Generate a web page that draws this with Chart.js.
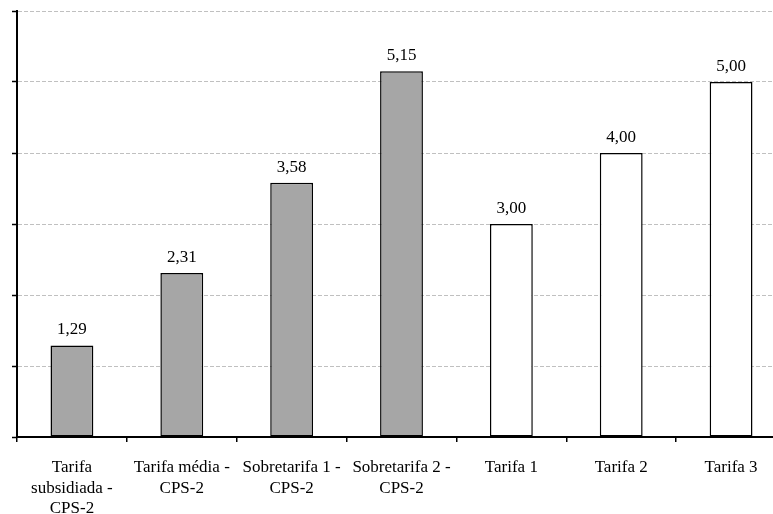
<!DOCTYPE html>
<html lang="pt">
<head>
    <meta charset="UTF-8">
    <title>Tarifas</title>
    <script src="https://cdn.jsdelivr.net/npm/chart.js"></script>
    <style>
        body {
            margin: 0;
            background-color: #ffffff;
            overflow: hidden;
        }
        canvas {
            display: block;
        }
    </style>
</head>
<body>
    <canvas id="tarifaChart" width="790" height="514"></canvas>

    <script>
        // chart data
        const categories = [
            ['Tarifa', 'subsidiada -', 'CPS-2'],
            ['Tarifa média -', 'CPS-2'],
            ['Sobretarifa 1 -', 'CPS-2'],
            ['Sobretarifa 2 -', 'CPS-2'],
            'Tarifa 1',
            'Tarifa 2',
            'Tarifa 3'
        ];
        const values = [1.29, 2.31, 3.58, 5.15, 3.00, 4.00, 5.00];
        const barColors = ['#a6a6a6', '#a6a6a6', '#a6a6a6', '#a6a6a6', '#ffffff', '#ffffff', '#ffffff'];
        const yMin = 0;
        const yMax = 6;
        const yStep = 1;

        // draws the "1,29" style labels above each bar
        const valueLabels = {
            id: 'valueLabels',
            afterDatasetsDraw(chart) {
                const ctx = chart.ctx;
                ctx.save();
                ctx.font = '17px "Liberation Serif", "Times New Roman", serif';
                ctx.fillStyle = '#000';
                ctx.textAlign = 'center';
                ctx.textBaseline = 'alphabetic';
                chart.getDatasetMeta(0).data.forEach((bar, i) => {
                    const txt = values[i].toFixed(2).replace('.', ',');
                    ctx.fillText(txt, bar.x, bar.y - 11);
                });
                ctx.restore();
            }
        };

        const ctx = document.getElementById('tarifaChart').getContext('2d');
        const chart = new Chart(ctx, {
            type: 'bar',
            data: {
                labels: categories,
                datasets: [{
                    data: values,
                    backgroundColor: barColors,
                    borderColor: '#000',
                    borderWidth: 1.5,
                    borderSkipped: false,
                    barPercentage: 0.39,
                    categoryPercentage: 1
                }]
            },
            options: {
                responsive: false,
                animation: false,
                layout: {
                    padding: { left: 12, top: 11, right: 4, bottom: 0 }
                },
                plugins: {
                    legend: { display: false },
                    tooltip: { enabled: false }
                },
                scales: {
                    x: {
                        grid: {
                            offset: true,
                            drawOnChartArea: false,
                            tickLength: 5,
                            color: '#000',
                            lineWidth: 1.5
                        },
                        border: { color: '#000', width: 2 },
                        ticks: {
                            color: '#000',
                            maxRotation: 0,
                            autoSkip: false,
                            padding: 15,
                            font: { family: '"Liberation Serif", "Times New Roman", serif', size: 17, lineHeight: 1.22 }
                        },
                        afterFit: scale => { scale.height = 77; }
                    },
                    y: {
                        min: yMin,
                        max: yMax,
                        ticks: { stepSize: yStep, display: false },
                        grid: {
                            color: c => c.tick && c.tick.value === 0 ? 'rgba(0,0,0,0)' : '#c0c0c0',
                            lineWidth: 1,
                            tickLength: 5,
                            tickColor: '#000',
                            tickWidth: 1.5
                        },
                        border: { color: '#000', width: 2, dash: [4, 2] }
                    }
                }
            },
            plugins: [valueLabels]
        });
    </script>
</body>
</html>
